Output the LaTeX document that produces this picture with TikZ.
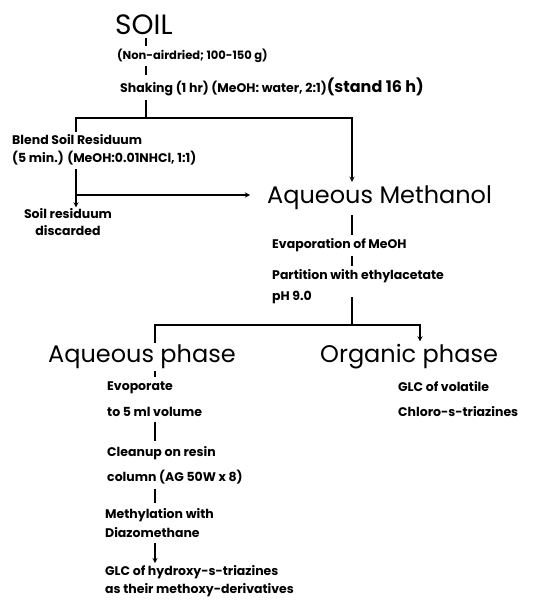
\documentclass[tikz,border=0pt]{standalone}
\usepackage{fontspec}
\setmainfont{Poppins}
\usetikzlibrary{arrows,positioning,calc}

\begin{document}
\begin{tikzpicture}[x=1pt,y=-1pt,>=stealth,
  big/.style={inner sep=0pt,anchor=west,font=\fontsize{24}{24}\selectfont},
  txt/.style={inner sep=0pt,anchor=west,font=\fontsize{12.5}{12.5}\selectfont\bfseries},
  line/.style={line width=1.3pt}]
\useasboundingbox (0,0) rectangle (554,601);

% extraction of the soil
\node[big,font=\fontsize{28}{28}\selectfont] (soil) at (115,25) {SOIL};
\node[txt,font=\fontsize{11.5}{11.5}\selectfont\bfseries] (nonair) at (117,56) {(Non-airdried; 100-150 g)};
\node[txt] (shake) at (120,87) {Shaking (1 hr) (MeOH: water, 2:1)\fontsize{16}{16}\selectfont(stand 16 h)};
\node[txt] (blend) at (12,140) {Blend Soil Residuum};
\node[txt] (blend2) at (12,158) {(5 min.) (MeOH:0.01NHCl, 1:1)};
\node[txt,anchor=center,align=center] (resid) at (68,222) {Soil residuum\\[4pt]discarded};
\node[big] (aqmeth) at (267,198) {Aqueous Methanol};
\node[txt] (evap) at (272,245) {Evaporation of MeOH};
\node[txt] (part) at (272,276) {Partition with ethylacetate};
\node[txt] (ph) at (272,297) {pH 9.0};

% the two phases
\node[big] (aqph) at (48,357) {Aqueous phase};
\node[big] (orgph) at (320,357) {Organic phase};
\node[txt] (evo1) at (107,388) {Evoporate};
\node[txt] (evo2) at (107,412) {to 5 ml volume};
\node[txt] (clean1) at (107,453) {Cleanup on resin};
\node[txt] (clean2) at (107,477) {column (AG 50W x 8)};
\node[txt] (meth1) at (105,515) {Methylation with};
\node[txt] (meth2) at (105,533) {Diazomethane};
\node[txt] (glch1) at (105,572) {GLC of hydroxy-s-triazines};
\node[txt] (glch2) at (105,590) {as their methoxy-derivatives};
\node[txt] (glcv1) at (398,387) {GLC of volatile};
\node[txt] (glcv2) at (398,412) {Chloro-s-triazines};

\coordinate (a) at (146,118);
\coordinate (l1) at (76,118);
\coordinate (r1) at (352,118);
\coordinate (b) at (76,195);
\coordinate (c) at (352,325);
\coordinate (l2) at (155,325);
\coordinate (r2) at (420,325);

\draw[line,shorten <=3pt,shorten >=3pt] (soil.south -| a) -- (nonair.north -| a);
\draw[line,shorten <=3pt,shorten >=3pt] (nonair.south -| a) -- (shake.north -| a);
\draw[line,shorten <=4pt] (shake.south -| a) -- (a);
\draw[line,->,shorten <=3pt,shorten >=4pt] (blend.north -| l1) -- (l1) -- (r1) -- (aqmeth.north -| r1);
\draw[line,->,shorten <=4pt,shorten >=1pt] (blend2.south -| b) -- (resid.north -| b);
\draw[line,->,shorten >=17pt] (b) -- (aqmeth.west |- b);

\draw[line,shorten <=5pt,shorten >=3pt] (aqmeth.south -| c) -- (evap.north -| c);
\draw[line,shorten <=4pt,shorten >=3pt] (evap.south -| c) -- (part.north -| c);
\draw[line] (ph.center -| c) -- (c);
\draw[line,->,shorten <=2pt,shorten >=3pt] (aqph.north -| l2) -- (l2) -- (r2) -- (orgph.north -| r2);

\draw[line,shorten <=2pt,shorten >=5pt] (aqph.south -| l2) -- (evo1.north -| l2);
\draw[line,shorten <=5pt,shorten >=5pt] (evo2.south -| l2) -- (clean1.north -| l2);
\draw[line,shorten <=5pt,shorten >=5pt] (clean2.south -| l2) -- (meth1.north -| l2);
\draw[line,->,shorten <=5pt,shorten >=2pt] (meth2.south -| l2) -- (glch1.north -| l2);

\end{tikzpicture}
\end{document}
